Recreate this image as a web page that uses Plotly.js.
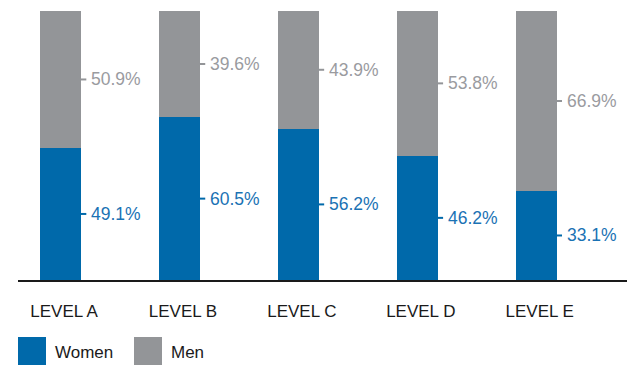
<!DOCTYPE html>
<html>
<head>
<meta charset="utf-8">
<script src="https://cdn.plot.ly/plotly-3.0.1.min.js"></script>
<style>
  html, body { margin: 0; padding: 0; background: #fff; }
  #chart { width: 627px; height: 367px; }
</style>
</head>
<body>
<div id="chart"></div>
<script>
const categories = ["LEVEL A", "LEVEL B", "LEVEL C", "LEVEL D", "LEVEL E"];
const women = [49.1, 60.5, 56.2, 46.2, 33.1];
const men = [50.9, 39.6, 43.9, 53.8, 66.9];

const BLUE = "#0069aa";
const GRAY = "#939598";
const BLUE_TXT = "#1a72b4";
const GRAY_TXT = "#9a9b9f";
const FONT = "Liberation Sans, Arial, sans-serif";
const W = 0.345;

const idx = categories.map((_, i) => i);

const traces = [
  { type: "bar", name: "Women", x: idx, y: women, width: W, marker: { color: BLUE }, hoverinfo: "skip" },
  { type: "bar", name: "Men", x: idx, y: men, width: W, marker: { color: GRAY }, hoverinfo: "skip" }
];

const annotations = [];
const shapes = [];
idx.forEach(i => {
  const segs = [
    { mid: women[i] / 2, val: women[i], c: BLUE_TXT, lc: BLUE },
    { mid: women[i] + men[i] / 2, val: men[i], c: GRAY_TXT, lc: GRAY }
  ];
  segs.forEach(s => {
    annotations.push({
      x: i + W / 2, y: s.mid, xref: "x", yref: "y",
      text: s.val.toFixed(1) + "%", showarrow: false,
      xanchor: "left", yanchor: "middle", xshift: 8,
      font: { family: FONT, size: 17.5, color: s.c }
    });
    shapes.push({
      type: "line", xref: "x", yref: "y",
      x0: i + W / 2, x1: i + W / 2 + 0.045, y0: s.mid, y1: s.mid,
      line: { color: s.lc, width: 2 }
    });
  });
});

// legend
const legendItems = [
  { name: "Women", color: BLUE, x: 18 },
  { name: "Men", color: GRAY, x: 134 }
];
legendItems.forEach(it => {
  shapes.push({
    type: "rect", xref: "paper", yref: "paper",
    x0: (it.x - 18) / 609, x1: (it.x + 28 - 18) / 609,
    y0: -(337 - 280) / 269, y1: -(365 - 280) / 269,
    fillcolor: it.color, line: { width: 0 }
  });
  annotations.push({
    xref: "paper", yref: "paper",
    x: (it.x + 35 - 18) / 609, y: -(352 - 280) / 269,
    text: it.name, showarrow: false, xanchor: "left", yanchor: "middle",
    font: { family: FONT, size: 17, color: "#1a1a1a" }
  });
});

const layout = {
  width: 627, height: 367,
  margin: { l: 18, r: 0, t: 11, b: 87 },
  paper_bgcolor: "#fff", plot_bgcolor: "#fff",
  barmode: "stack",
  showlegend: false,
  xaxis: {
    range: [-0.357, 4.764],
    tickmode: "array", tickvals: idx.map(i => i + 0.03), ticktext: categories,
    showline: true, linecolor: "#1a1a1a", linewidth: 1.5,
    showgrid: false, zeroline: false, ticks: "",
    ticklabelstandoff: 15,
    tickfont: { family: FONT, size: 17, color: "#1a1a1a" },
    fixedrange: true
  },
  yaxis: {
    range: [0, 100], visible: false, fixedrange: true
  },
  annotations: annotations,
  shapes: shapes
};

Plotly.newPlot("chart", traces, layout, { displayModeBar: false, staticPlot: true });
</script>
</body>
</html>
